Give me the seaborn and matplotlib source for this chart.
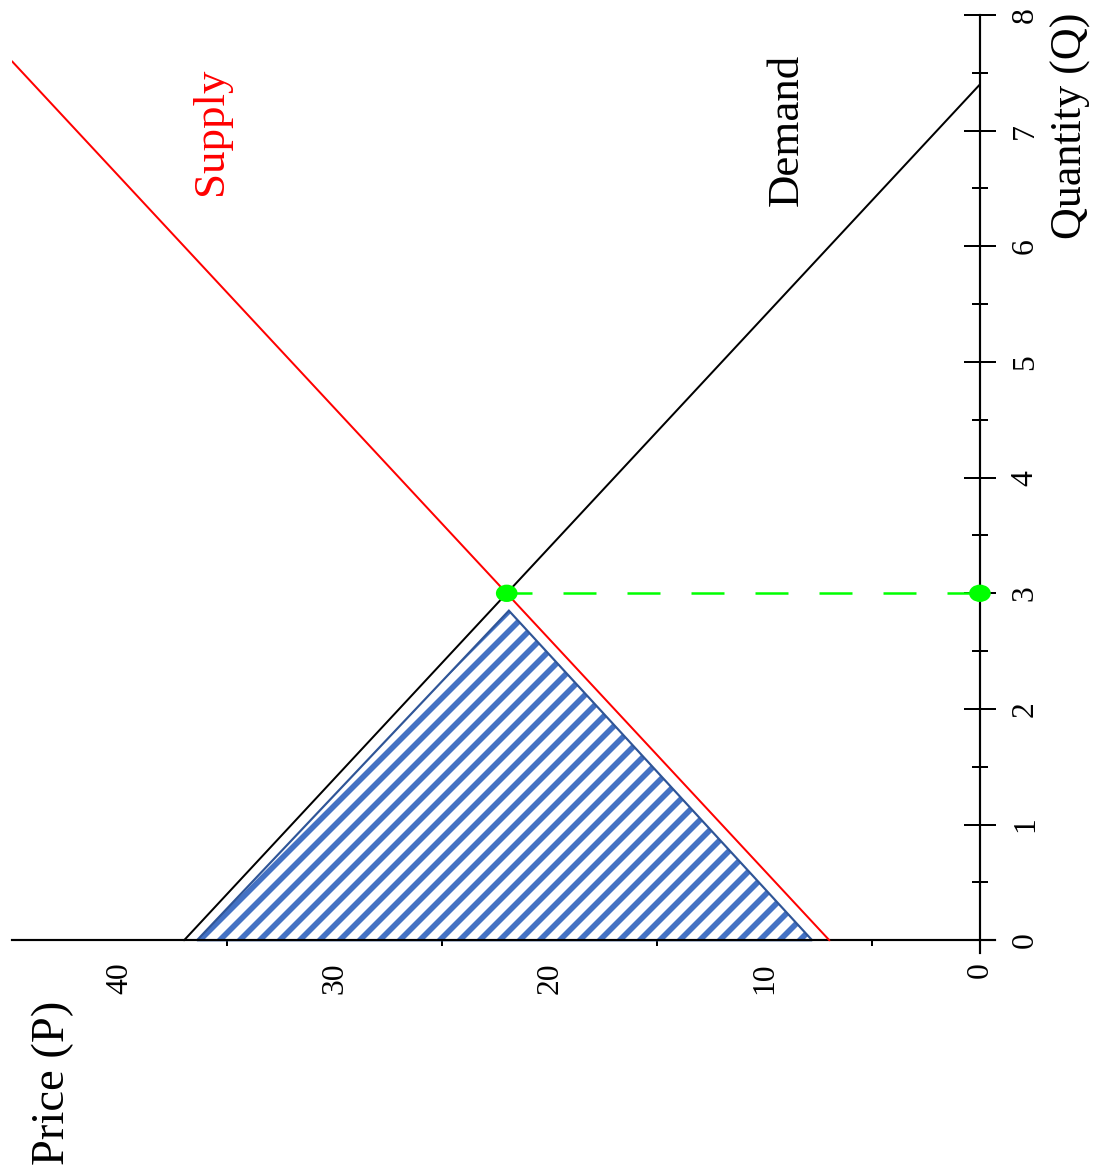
import numpy as np
import pandas as pd
import matplotlib
import matplotlib.pyplot as plt
import seaborn as sns
from matplotlib.path import Path
from matplotlib.transforms import Affine2D

supply_price = [7.0, 45.0]
supply_qty = [0.0, 7.6]
demand_price = [0.0, 37.0]
demand_qty = [7.4, 0.0]
eq_price = [22.0, 0.0]
eq_qty = [3.0, 3.0]
tri_price = [36.4, 7.8, 21.9]
tri_qty = [0.0, 0.0, 2.85]

price_ticks = [0, 10, 20, 30, 40, 45]
price_labels = ['0', '10', '20', '30', '40', '']
qty_ticks = [0, 1, 2, 3, 4, 5, 6, 7, 8]
qty_labels = [str(q) for q in qty_ticks]

sns.set_theme(style="white")
plt.rcParams['font.family'] = ['Liberation Serif', 'DejaVu Serif']
plt.rcParams['hatch.linewidth'] = 3.4

DPI = 120
fig = plt.figure(figsize=(1107 / DPI, 1168 / DPI), dpi=DPI)
ax = fig.add_axes([12 / 1107, 1 - 953 / 1168, 983 / 1107, 938 / 1168])

# shaded triangle
ax.fill(tri_price, tri_qty, facecolor='white', edgecolor='#4472c4', hatch='//',
        linewidth=0, zorder=1)
ax.fill(tri_price, tri_qty, facecolor='none', edgecolor='#2f5597', linewidth=1.3, zorder=1.1)

# supply and demand
sns.lineplot(x=supply_price, y=supply_qty, ax=ax, color='#ff0000', linewidth=1.2,
             sort=False, estimator=None, zorder=3)
sns.lineplot(x=demand_price, y=demand_qty, ax=ax, color='black', linewidth=1.2,
             sort=False, estimator=None, zorder=3)

# equilibrium guide
df_eq = pd.DataFrame({'price': eq_price[::-1], 'qty': eq_qty})
sns.lineplot(data=df_eq, x='price', y='qty', ax=ax, color='#00ff00', linewidth=1.5,
             linestyle=(0, (13.2, 12.4)), sort=False, estimator=None, zorder=3)
ell = Path.unit_circle().transformed(Affine2D().scale(1.25, 1.0))
sns.scatterplot(x=eq_price, y=eq_qty, ax=ax, color='#00ff00', marker=ell, s=13 ** 2,
                edgecolor='none', zorder=4)

# axes
ax.set_xlim(45, -0.7)
ax.set_ylim(-0.11, 8)
ax.set_axisbelow(True)
for s in ['top', 'left']:
    ax.spines[s].set_visible(False)
ax.spines['bottom'].set_position(('data', 0))
ax.spines['right'].set_position(('data', 0))
for s in ['bottom', 'right']:
    ax.spines[s].set_color('black')
    ax.spines[s].set_linewidth(1.3)
ax.yaxis.tick_right()

ax.set_xticks(price_ticks, price_labels, rotation=90, fontsize=19)
ax.set_xticks([5, 15, 25, 35], minor=True)
ax.set_yticks(qty_ticks, qty_labels, rotation=90, va='center', fontsize=19)
ax.set_yticks(np.arange(0.5, 8, 1.0), minor=True)
ax.tick_params(axis='x', which='major', direction='inout', length=12.6, width=1.2,
               color='black', pad=7, labelcolor='black')
ax.tick_params(axis='x', which='minor', direction='out', length=3.5, width=1.2,
               color='black', bottom=True)
ax.tick_params(axis='y', which='major', direction='inout', length=19, width=1.2,
               color='black', pad=9, labelcolor='black', right=True, left=False)
ax.tick_params(axis='y', which='minor', direction='inout', length=9.6, width=1.2,
               color='black', right=True, left=False)
ax.set_xlabel('')
ax.set_ylabel('')

# labels
ax.text(211 / 1107, 1 - 131 / 1168, 'Supply', transform=fig.transFigure, rotation=90,
        ha='center', va='center', color='#ff0000', fontsize=27)
ax.text(787 / 1107, 1 - 130 / 1168, 'Demand', transform=fig.transFigure, rotation=90,
        ha='center', va='center', color='black', fontsize=27)
fig.text(1071 / 1107, 1 - 126 / 1168, 'Quantity (Q)', rotation=90,
         ha='center', va='center', color='black', fontsize=26.5)
fig.text(53 / 1107, 1 - 1083 / 1168, 'Price (P)', rotation=90,
         ha='center', va='center', color='black', fontsize=28)

fig.savefig('out.png', dpi=DPI, facecolor='white')
